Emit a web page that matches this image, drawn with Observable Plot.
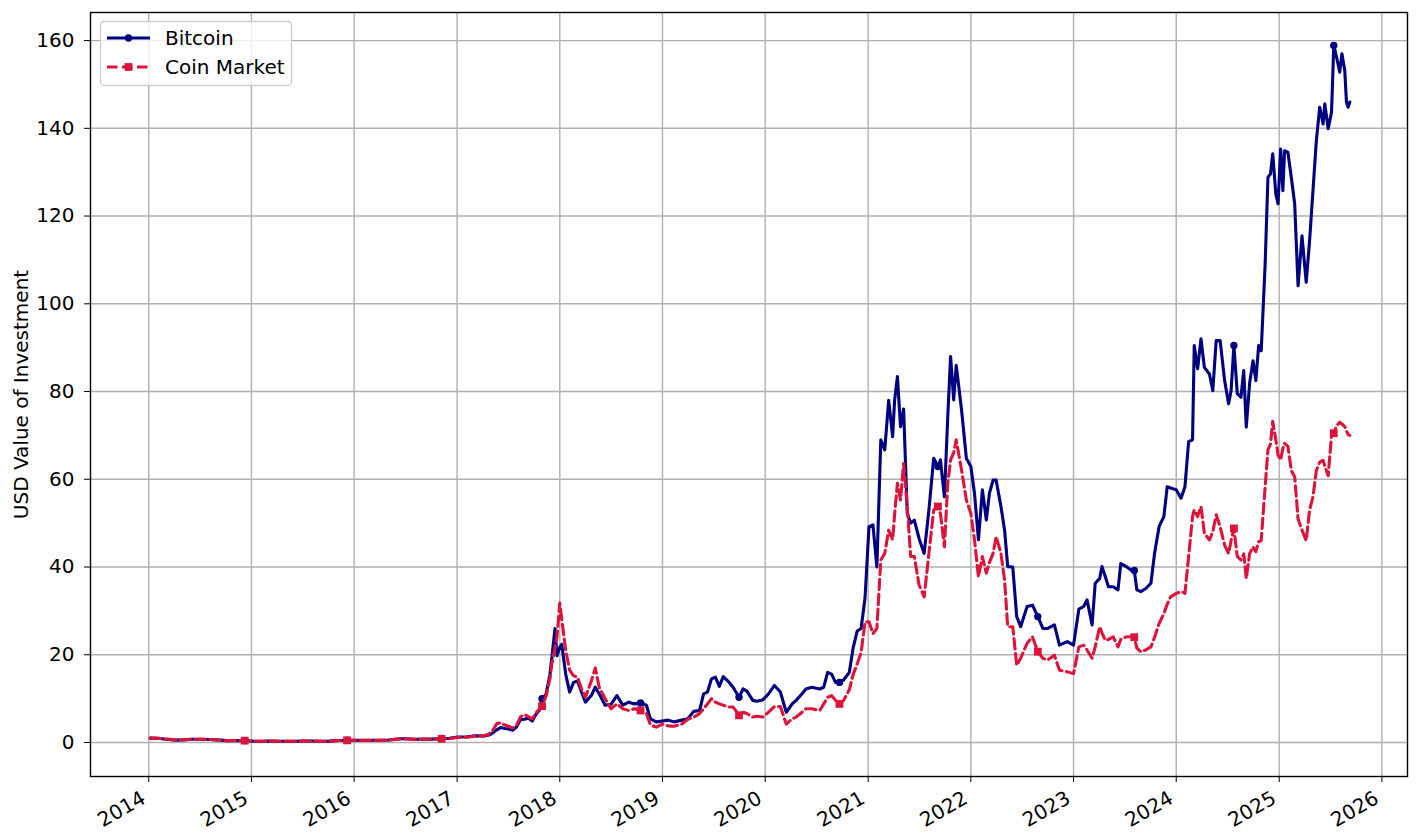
<!DOCTYPE html>
<html><head><meta charset="utf-8">
<script src="https://cdn.jsdelivr.net/npm/d3@7"></script>
<script src="https://cdn.jsdelivr.net/npm/@observablehq/plot@0.6"></script>
<style>
body{margin:0;background:#fff;font-family:"DejaVu Sans",sans-serif}
#chart{position:relative;width:1418px;height:838px}
</style>
</head><body><div id="chart"></div>
<script>
const dates = [
"2014-01-06","2014-02-03","2014-03-03","2014-04-07","2014-05-05","2014-06-02","2014-07-07","2014-08-04","2014-09-01","2014-10-06","2014-11-03","2014-12-08",
"2015-01-12","2015-02-09","2015-03-09","2015-04-06","2015-05-04","2015-06-08","2015-07-06","2015-08-03","2015-09-07","2015-10-05","2015-11-02","2015-12-07",
"2016-01-04","2016-02-08","2016-03-07","2016-04-04","2016-05-02","2016-06-13","2016-07-04","2016-08-08","2016-09-05","2016-10-03","2016-11-07","2016-12-05",
"2017-01-02","2017-02-06","2017-03-06","2017-04-03","2017-04-24","2017-05-08","2017-05-22","2017-06-05","2017-06-19","2017-07-03","2017-07-17","2017-07-31","2017-08-14","2017-08-28","2017-09-11","2017-09-25","2017-10-09","2017-10-23","2017-10-30","2017-11-13","2017-11-27","2017-12-04","2017-12-15","2017-12-22",
"2018-01-01","2018-01-08","2018-01-22","2018-02-05","2018-02-19","2018-03-05","2018-03-19","2018-04-02","2018-04-23","2018-05-07","2018-05-21","2018-06-11","2018-07-02","2018-07-23","2018-08-13","2018-09-03","2018-09-24","2018-10-15","2018-11-05","2018-11-19","2018-12-10",
"2019-01-01","2019-01-21","2019-02-11","2019-03-11","2019-04-01","2019-04-22","2019-05-13","2019-05-27","2019-06-10","2019-06-24","2019-07-08","2019-07-22","2019-08-05","2019-08-26","2019-09-09","2019-09-30","2019-10-14","2019-10-28","2019-11-18","2019-12-02","2019-12-23",
"2020-01-13","2020-02-03","2020-02-24","2020-03-16","2020-04-06","2020-04-20","2020-05-11","2020-05-25","2020-06-15","2020-07-13","2020-07-27","2020-08-10","2020-08-24","2020-09-07","2020-09-21","2020-10-05","2020-10-26","2020-11-09","2020-11-23","2020-12-07","2020-12-21",
"2021-01-04","2021-01-18","2021-02-01","2021-02-15","2021-03-01","2021-03-15","2021-03-29","2021-04-05","2021-04-15","2021-04-26","2021-05-07","2021-05-20","2021-06-01","2021-06-14","2021-07-01","2021-07-19","2021-08-05","2021-08-22","2021-09-06","2021-09-15","2021-09-29","2021-10-11","2021-10-21","2021-11-01","2021-11-10","2021-11-29","2021-12-16",
"2022-01-01","2022-01-14","2022-01-28","2022-02-11","2022-02-25","2022-03-08","2022-03-21","2022-04-01","2022-04-18","2022-05-01","2022-05-12","2022-05-30","2022-06-13","2022-06-27","2022-07-20","2022-08-08","2022-08-27","2022-09-14","2022-10-01","2022-10-25","2022-11-12","2022-12-10",
"2023-01-01","2023-01-20","2023-02-06","2023-02-18","2023-03-08","2023-03-19","2023-04-04","2023-04-12","2023-04-24","2023-05-05","2023-05-22","2023-06-08","2023-06-18","2023-07-07","2023-07-24","2023-08-05","2023-08-14","2023-08-28","2023-09-15","2023-10-03","2023-10-16","2023-11-01","2023-11-18","2023-11-30","2023-12-12",
"2024-01-01","2024-01-18","2024-02-01","2024-02-14","2024-02-28","2024-03-05","2024-03-17","2024-03-29","2024-04-10","2024-04-28","2024-05-10","2024-05-22","2024-06-05","2024-06-21","2024-07-05","2024-07-14","2024-07-24","2024-08-05","2024-08-18","2024-08-28","2024-09-06","2024-09-18","2024-09-30","2024-10-10","2024-10-20","2024-10-29","2024-11-12","2024-11-22","2024-12-01","2024-12-09","2024-12-20","2024-12-28",
"2025-01-06","2025-01-14","2025-01-20","2025-02-01","2025-02-13","2025-02-25","2025-03-09","2025-03-23","2025-04-07","2025-04-19","2025-05-01","2025-05-13","2025-05-25","2025-06-06","2025-06-12","2025-06-24","2025-07-06","2025-07-14","2025-07-24","2025-08-04","2025-08-12","2025-08-22","2025-08-28","2025-09-03","2025-09-09"
];
const bitcoin = [
1.0,0.95,0.75,0.55,0.6,0.75,0.75,0.7,0.6,0.42,0.45,0.43,
0.3,0.3,0.33,0.3,0.3,0.29,0.35,0.35,0.3,0.31,0.45,0.5,
0.53,0.48,0.52,0.53,0.56,0.85,0.84,0.74,0.77,0.78,0.9,0.95,
1.25,1.3,1.55,1.45,1.7,2.2,2.9,3.4,3.2,3.1,2.8,3.5,5.2,5.3,5.6,4.9,6.5,7.6,10.0,11.0,15.5,19.5,26.0,19.8,
21.7,22.4,15.6,11.5,13.7,14.0,11.5,9.2,10.7,12.6,11.1,8.5,8.7,10.7,8.5,9.2,8.8,9.0,8.5,5.4,4.7,
4.9,5.1,4.7,5.1,5.4,7.1,7.3,11.1,11.5,14.5,14.9,12.8,15.0,13.7,12.6,10.3,12.2,11.7,9.6,9.4,9.7,
11.1,13.0,11.5,6.9,8.8,9.6,11.1,12.2,12.6,12.2,12.6,16.0,15.6,13.7,13.7,14.2,16.0,21.7,25.4,26.0,33.0,
49.2,49.6,40.0,69.0,66.7,78.0,69.7,78.0,83.4,72.0,76.0,52.2,50.0,50.7,46.5,43.1,53.0,64.8,62.9,64.4,56.0,74.3,88.0,78.1,86.0,75.8,64.8,
62.9,56.8,46.2,57.6,50.7,56.8,59.8,59.8,53.8,48.4,40.1,40.0,28.7,26.4,31.0,31.3,28.7,26.0,26.0,26.8,22.2,23.0,
22.2,30.4,31.0,32.5,26.8,36.3,37.4,40.1,37.8,35.5,35.5,34.8,40.8,40.1,39.3,39.2,34.8,34.4,35.1,36.3,43.1,49.2,51.5,58.3,58.0,
57.6,55.7,58.3,68.6,69.0,90.5,85.2,92.0,85.5,84.0,80.2,91.6,91.6,82.5,77.2,80.2,90.5,79.5,78.7,84.8,71.9,82.0,87.0,82.5,90.5,89.3,109.0,128.8,129.6,134.2,125.0,122.8,
135.3,125.8,134.9,134.5,128.8,122.8,104.1,115.5,104.9,114.4,125.8,137.2,144.8,141.0,145.6,139.9,143.7,158.9,156.2,152.8,157.0,153.2,146.0,144.8,146.0
];
const coinMarket = [
1.0,0.95,0.78,0.6,0.62,0.75,0.74,0.68,0.58,0.42,0.45,0.42,
0.3,0.3,0.32,0.3,0.3,0.29,0.34,0.33,0.29,0.3,0.43,0.48,
0.5,0.46,0.5,0.52,0.56,0.82,0.8,0.7,0.73,0.74,0.85,0.9,
1.15,1.2,1.45,1.5,1.9,2.8,4.3,4.5,4.0,3.7,3.3,3.9,5.8,6.4,5.9,5.4,6.8,7.8,8.3,10.5,14.5,18.0,21.5,24.0,
31.8,28.0,21.0,16.5,15.2,14.9,12.3,10.3,14.0,17.0,12.6,10.0,7.7,8.8,7.7,7.3,7.7,7.3,6.6,4.0,3.5,
4.2,3.8,3.7,4.2,5.3,5.8,6.6,7.7,8.8,10.0,9.2,8.8,8.5,8.1,8.1,6.2,6.9,6.6,5.8,6.0,5.8,
6.9,8.2,8.2,4.2,5.4,5.8,6.9,7.7,7.7,7.3,8.8,10.3,10.7,9.6,8.8,9.5,12.0,15.6,17.9,20.5,27.5,
27.5,24.8,26.0,41.6,43.1,48.4,46.2,52.0,59.1,55.3,63.6,53.8,42.4,42.4,35.9,33.2,43.1,53.0,53.8,52.2,44.6,59.1,64.4,66.0,69.0,62.1,55.3,
52.2,46.2,37.8,42.4,38.6,41.0,43.1,46.9,43.1,37.0,26.4,26.4,17.6,19.2,22.6,24.1,20.7,19.2,18.8,19.9,16.5,16.1,
15.7,21.8,22.2,21.1,19.2,21.8,26.4,25.0,23.3,23.5,24.1,21.8,23.5,24.1,24.1,24.0,21.5,20.7,21.1,21.8,24.0,27.1,29.4,31.5,33.2,
34.0,34.4,34.0,42.4,51.5,53.0,51.5,53.8,47.7,46.2,48.0,51.9,49.2,45.0,43.1,46.0,48.8,42.4,41.6,43.0,37.4,43.1,44.6,43.5,45.8,46.0,58.3,66.7,68.0,73.2,69.0,65.5,
64.4,67.0,68.2,67.5,62.0,60.6,51.0,48.4,46.0,53.0,56.0,62.0,63.9,64.3,63.0,60.8,70.0,70.5,72.2,73.0,72.6,72.0,71.0,70.2,70.0
];
const markerDates = ["2014-12-12","2015-11-30","2016-11-14","2017-10-30","2018-10-15","2019-09-30","2020-09-21","2021-09-06","2022-08-27","2023-08-05","2024-07-24","2025-07-14"];
const yearTicks = [2014,2015,2016,2017,2018,2019,2020,2021,2022,2023,2024,2025,2026];
const yTicks = [0,20,40,60,80,100,120,140,160];
const seriesNames = ["Bitcoin","Coin Market"];
const seriesColors = ["#000080","#DC143C"];

const parse = d3.utcParse("%Y-%m-%d");
const dd = dates.map(parse);
const btcRows = dd.map((d,i)=>({date:d, value:bitcoin[i]}));
const cmRows = dd.map((d,i)=>({date:d, value:coinMarket[i]}));
function nearestIdx(t){let best=0,bd=Infinity;dd.forEach((d,i)=>{const x=Math.abs(d-t);if(x<bd){bd=x;best=i;}});return best;}
const mIdx = markerDates.map(s=>nearestIdx(parse(s)));
const btcMarks = mIdx.map(i=>btcRows[i]);
const cmMarks = mIdx.map(i=>cmRows[i]);
const yearDates = yearTicks.map(y=>new Date(Date.UTC(y,0,1)));

const LW = 3.1, DASH = "10.5,4.5", FS = 20;
const chart = Plot.plot({
  width:1418, height:838,
  marginLeft:90, marginRight:11, marginTop:12, marginBottom:62,
  style:{fontFamily:"DejaVu Sans", fontSize:FS+"px", color:"#000", background:"#fff"},
  x:{type:"utc", domain:[new Date(Date.UTC(2013,5,8)), new Date(Date.UTC(2026,3,2))]},
  y:{domain:[-7.75,166.4]},
  marks:[
    Plot.gridX(yearDates,{stroke:"#b0b0b0", strokeOpacity:1, strokeWidth:1.4}),
    Plot.gridY(yTicks,{stroke:"#b0b0b0", strokeOpacity:1, strokeWidth:1.4}),
    Plot.line(btcRows,{x:"date", y:"value", stroke:seriesColors[0], strokeWidth:LW, strokeLinejoin:"round"}),
    Plot.dot(btcMarks,{x:"date", y:"value", r:3.7, fill:seriesColors[0], stroke:null}),
    Plot.line(cmRows,{x:"date", y:"value", stroke:seriesColors[1], strokeWidth:LW, strokeDasharray:DASH}),
    Plot.dot(cmMarks,{x:"date", y:"value", symbol:"square", r:4.4, fill:seriesColors[1], stroke:null}),
    Plot.frame({stroke:"#000", strokeWidth:1.4}),
    Plot.axisY(yTicks,{tickSize:6, tickPadding:10, fontSize:FS, label:"USD Value of Investment", labelAnchor:"center", labelArrow:"none", labelOffset:77}),
    Plot.axisX(yearDates,{tickSize:6, tickPadding:7, tickRotate:-30, tickFormat:d3.utcFormat("%Y"), label:null, fontSize:FS})
  ]
});
document.getElementById("chart").appendChild(chart);

const svg = d3.select(chart);
svg.selectAll("text").style("font-size",FS+"px");
// nudge rotated year labels to match right/top alignment at each tick
svg.selectAll("g[aria-label='x-axis tick label']").each(function(){
  const old = this.getAttribute("transform") || "";
  this.setAttribute("transform", "translate(-5,7) " + old);
});

// legend
const lg = svg.append("g").attr("font-family","DejaVu Sans").attr("font-size",FS).attr("text-anchor","start");
lg.append("rect").attr("x",100.5).attr("y",21.5).attr("width",191).attr("height",64).attr("rx",4)
  .attr("fill","#fff").attr("fill-opacity",0.8).attr("stroke","#cccccc").attr("stroke-width",1.3);
[38,67].forEach((yy,k)=>{
  lg.append("line").attr("x1",107).attr("x2",150).attr("y1",yy).attr("y2",yy)
    .attr("stroke",seriesColors[k]).attr("stroke-width",LW).attr("stroke-dasharray",k?DASH:null);
  if(k===0) lg.append("circle").attr("cx",128.5).attr("cy",yy).attr("r",3.7).attr("fill",seriesColors[k]);
  else lg.append("rect").attr("x",124.6).attr("y",yy-3.9).attr("width",7.8).attr("height",7.8).attr("fill",seriesColors[k]);
  lg.append("text").attr("x",165).attr("y",yy+7).attr("text-anchor","start").style("font-size",FS+"px").text(seriesNames[k]);
});
</script>
</body></html>
